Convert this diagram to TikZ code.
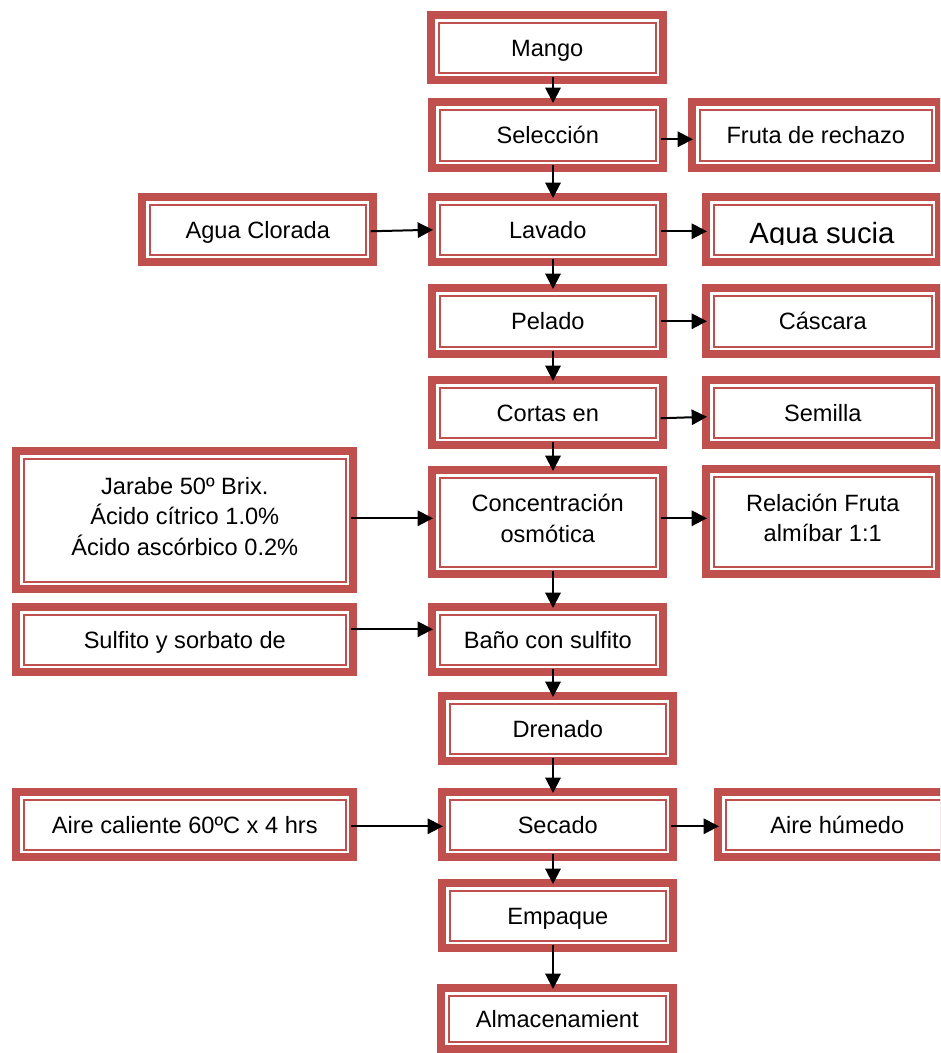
\documentclass[tikz,border=0pt]{standalone}
\usepackage{fontspec}
\setmainfont{Liberation Sans}
\usetikzlibrary{arrows.meta,calc}

\definecolor{boxred}{HTML}{C0504D}

\newcommand{\boxfont}{\fontsize{17.7pt}{23pt}\selectfont}
\newcommand{\bigboxfont}{\fontsize{22pt}{26pt}\selectfont}
% extra depth under the last line of a multi-line label
\newcommand{\lowstrut}{\rule[-6pt]{0pt}{6pt}}

\tikzset{
  flowbox/.style={
    fill=boxred, inner sep=0pt, align=center, font=\boxfont, anchor=north west,
    path picture={
      \fill[white]
        ([xshift=6pt,yshift=6pt]path picture bounding box.south west) rectangle
        ([xshift=-6pt,yshift=-6pt]path picture bounding box.north east);
      \draw[boxred, line width=1.7pt]
        ([xshift=8.7pt,yshift=8.7pt]path picture bounding box.south west) rectangle
        ([xshift=-8.7pt,yshift=-8.7pt]path picture bounding box.north east);
    }},
  oneline/.style={text height=12.7pt, text depth=0pt},
  multiline/.style={text height={}, text depth={}},
  arr/.style={line width=1.5pt, -{Triangle[length=11.5pt,width=11.5pt]}},
}

% \fbx[opts]{name}{left}{top}{right}{bottom}{text}, corners in pixels, y downwards
\newcommand{\fbx}[7][]{%
  \node[flowbox, oneline, #1, minimum width={(#5-#3)*0.75pt}, minimum height={(#6-#4)*0.75pt}]
    (#2) at (#3,#4) {#7};}

\begin{document}
\begin{tikzpicture}[x=0.75pt,y=-0.75pt]
\useasboundingbox (0,0) rectangle (940,1053);
\clip (0,0) rectangle (940,1053);

\coordinate (axis) at (553,0);

% main column
\fbx{mango}{427}{11}{667}{84}{Mango}
\fbx{sel}{428}{98}{667}{172}{Selección}
\fbx{lavado}{428}{193}{667}{266}{Lavado}
\fbx{pelado}{428}{284}{667}{358}{Pelado}
\fbx{cortas}{428}{376}{667}{449}{Cortas en}
\fbx[multiline]{conc}{428}{466}{667}{578}{Concentración\\osmótica\lowstrut}
\fbx{bano}{428}{603}{667}{676}{Baño con sulfito}
\fbx{drenado}{438}{692}{677}{765}{Drenado}
\fbx{secado}{438}{788}{677}{861}{Secado}
\fbx{empaque}{438}{879}{677}{952}{Empaque}
\fbx{almac}{437}{984}{677}{1053}{Almacenamient}

% inputs
\fbx{clorada}{138}{193}{377}{266}{Agua Clorada}
\fbx[multiline]{jarabe}{12}{447}{357}{593}{Jarabe 50º Brix.\\Ácido cítrico 1.0\%\\Ácido ascórbico 0.2\%\lowstrut}
\fbx{sulfito}{12}{603}{357}{676}{Sulfito y sorbato de}
\fbx{caliente}{12}{788}{357}{861}{Aire caliente 60ºC x 4 hrs}

% outputs
\fbx{fruta}{688}{98}{943}{172}{Fruta de rechazo}
\fbx{sucia}{702}{193}{943}{266}{}
\fbx{cascara}{702}{284}{943}{358}{Cáscara}
\fbx{semilla}{702}{376}{943}{449}{Semilla}
\fbx[multiline]{relacion}{702}{465}{943}{578}{Relación Fruta\\almíbar 1:1\lowstrut}
\fbx{humedo}{714}{788}{960}{861}{Aire húmedo}

% oversized label, cut off by the inner frame
\begin{scope}
  \clip (702,193) rectangle (943,244);
  \node[font=\bigboxfont, anchor=base, inner sep=0pt] (suciatext) at (822,243) {Agua sucia};
\end{scope}

% vertical flow
\foreach \a/\b in {mango/sel, sel/lavado, lavado/pelado, pelado/cortas, cortas/conc,
                   conc/bano, bano/drenado, drenado/secado, secado/empaque, empaque/almac}
  \draw[arr] ($(\a.south -| axis)+(0,-8)$) -- ($(\b.north -| axis)+(0,5)$);

% side flows
\draw[arr] ($(sel.east)+(-7,4)$) coordinate (s1) -- ($(fruta.west |- s1)+(5,0)$);
\draw[arr] ($(clorada.east)+(-7,1.5)$) -- ($(lavado.west)+(5,0)$);
\draw[arr] ($(lavado.east)+(-7,1.5)$) coordinate (s2) -- ($(sucia.west |- s2)+(5,0)$);
\draw[arr] ($(pelado.east)+(-7,0)$) coordinate (s3) -- ($(cascara.west |- s3)+(5,0)$);
\draw[arr] ($(cortas.east)+(-7,5.5)$) -- ($(semilla.west)+(5,4)$);
\draw[arr] ($(jarabe.east)+(-7,-2)$) coordinate (s4) -- ($(conc.west |- s4)+(5,0)$);
\draw[arr] ($(conc.east)+(-7,-4)$) coordinate (s5) -- ($(relacion.west |- s5)+(5,0)$);
\draw[arr] ($(sulfito.east)+(-7,-10.5)$) coordinate (s6) -- ($(bano.west |- s6)+(5,0)$);
\draw[arr] ($(caliente.east)+(-7,1.5)$) coordinate (s7) -- ($(secado.west |- s7)+(5,0)$);
\draw[arr] ($(secado.east)+(-7,1.5)$) coordinate (s8) -- ($(humedo.west |- s8)+(5,0)$);
\end{tikzpicture}
\end{document}
